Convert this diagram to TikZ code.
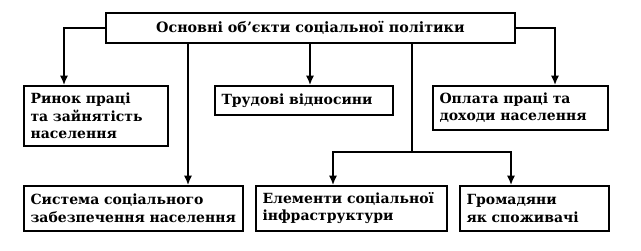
\documentclass[tikz,border=0pt]{standalone}
\usepackage{fontspec}
\setmainfont{DejaVu Serif}
\usetikzlibrary{arrows.meta,calc}
\begin{document}
\begin{tikzpicture}[x=0.75pt,y=-0.75pt,
  box/.style={draw, line width=1.3pt, anchor=north west, inner xsep=5pt, inner ysep=0pt,
    font=\bfseries\fontsize{10.5}{13}\selectfont, align=left},
  arr/.style={line width=1.1pt, -{Latex[length=7pt,width=6pt]}},
  ln/.style={line width=1.1pt}]
\useasboundingbox (0,0) rectangle (641,250);
\node[box, align=center, inner xsep=0pt, minimum width=306.75pt, minimum height=22.5pt,
  font=\bfseries\fontsize{10.7}{13}\selectfont] (top) at (105,12) {Основні об’єкти соціальної політики};
\node[box, text width=98pt, minimum height=45pt] (rynok) at (23,85) {Ринок праці\\та зайнятість\\населення};
\node[box, text width=123.5pt, minimum height=21.75pt] (trud) at (214,85) {Трудові відносини};
\node[box, text width=121.25pt, minimum height=33pt] (oplata) at (432,85) {Оплата праці та\\доходи населення};
\node[box, text width=154.25pt, minimum height=33.75pt] (systema) at (23,185) {Система соціального\\забезпечення населення};
\node[box, text width=133.25pt, minimum height=33.75pt] (element) at (255,185) {Елементи соціальної\\інфраструктури};
\node[box, text width=101.75pt, minimum height=33.75pt] (hromad) at (459,185) {Громадяни\\як споживачі};
\coordinate (r1) at ($(rynok.north west)+(41,0)$);
\coordinate (s1) at ($(systema.north west)+(165,0)$);
\coordinate (t1) at ($(trud.north west)+(96,0)$);
\coordinate (o1) at ($(oplata.north west)+(123,0)$);
\coordinate (e1) at ($(element.north west)+(78,0)$);
\coordinate (h1) at ($(hromad.north west)+(52,0)$);
\coordinate (j) at (412,152);
\draw[arr] (top.west) -| (r1);
\draw[arr] (top.south -| s1) -- (s1);
\draw[arr] (top.south -| t1) -- (t1);
\draw[arr] (top.east) -| (o1);
\draw[ln] (top.south -| j) -- (j);
\draw[arr] (j) -| (e1);
\draw[arr] (j) -| (h1);
\end{tikzpicture}
\end{document}
